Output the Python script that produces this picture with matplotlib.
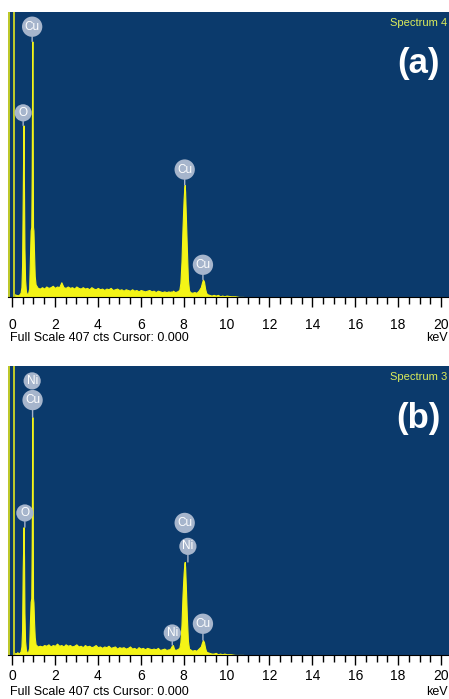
import matplotlib.pyplot as plt
import numpy as np

# EDS spectra (energy in keV, counts; full scale 407 cts)
energy = [0.15, 0.2, 0.25, 0.3, 0.35, 0.4, 0.44, 0.47, 0.5, 0.52,
          0.54, 0.56, 0.58, 0.61, 0.65, 0.7, 0.75, 0.8, 0.84, 0.87,
          0.9, 0.92, 0.94, 0.95, 0.96, 0.98, 1.0, 1.03, 1.06, 1.1,
          1.2, 1.3, 1.4, 1.5, 1.6, 1.7, 1.8, 1.9, 2.0, 2.1,
          2.2, 2.3, 2.4, 2.5, 2.6, 2.7, 2.8, 2.9, 3.0, 3.1,
          3.2, 3.3, 3.4, 3.5, 3.6, 3.7, 3.8, 3.9, 4.0, 4.1,
          4.2, 4.3, 4.4, 4.5, 4.6, 4.7, 4.8, 4.9, 5.0, 5.1,
          5.2, 5.3, 5.4, 5.5, 5.6, 5.7, 5.8, 5.9, 6.0, 6.1,
          6.2, 6.3, 6.4, 6.5, 6.6, 6.7, 6.8, 6.9, 7.0, 7.1,
          7.2, 7.3,
          7.35, 7.4, 7.45, 7.5, 7.55, 7.6, 7.7, 7.8,
          7.85, 7.9, 7.95, 8.0, 8.03, 8.05, 8.07, 8.1, 8.15, 8.2,
          8.25, 8.3, 8.4, 8.5, 8.6, 8.7, 8.8, 8.85, 8.9, 8.95,
          9.0, 9.05, 9.1, 9.2, 9.3, 9.4, 9.5, 9.6, 9.7, 9.8,
          9.9, 10.0, 10.2, 10.4, 10.6, 10.8]

counts_a = [4, 2, 3, 2, 4, 6, 14, 45, 140, 205,
            245, 150, 70, 25, 8, 4, 5, 12, 60, 95,
            100, 180, 330, 365, 300, 100, 95, 60, 30, 18,
            13, 12, 14, 12, 15, 13, 14, 16, 13, 15,
            14, 21, 14, 13, 15, 13, 14, 12, 15, 13,
            12, 14, 12, 13, 11, 14, 12, 11, 13, 11,
            12, 10, 12, 11, 13, 10, 11, 12, 10, 11,
            9, 11, 10, 9, 11, 9, 10, 8, 10, 9,
            8, 9, 10, 8, 9, 7, 9, 8, 7, 8,
            7, 8,
            7, 8, 7, 9, 8, 7, 8, 10,
            20, 50, 100, 140, 155, 160, 150, 120, 70, 25,
            10, 7, 6, 7, 6, 9, 14, 20, 25, 22,
            12, 6, 4, 3, 2, 3, 2, 3, 1, 2,
            1, 2, 1, 1, 0, 0]

counts_b = [3, 2, 4, 2, 3, 5, 12, 35, 120, 150,
            180, 140, 60, 20, 7, 3, 4, 10, 50, 75,
            80, 160, 290, 335, 290, 80, 74, 45, 25, 15,
            12, 13, 12, 14, 13, 15, 12, 14, 13, 16,
            13, 14, 12, 15, 13, 14, 12, 13, 15, 12,
            13, 11, 14, 12, 13, 11, 12, 14, 11, 12,
            10, 12, 11, 13, 10, 11, 12, 9, 11, 10,
            11, 9, 10, 12, 9, 10, 8, 11, 9, 10,
            8, 10, 9, 8, 9, 8, 10, 7, 8, 9,
            7, 8,
            8, 10, 13, 14, 9, 7, 8, 10,
            18, 42, 85, 115, 127, 131, 124, 100, 55, 20,
            9, 8, 6, 7, 6, 9, 12, 17, 21, 18,
            10, 5, 4, 3, 2, 2, 3, 1, 2, 1,
            2, 1, 1, 0, 0, 0]

# peak markers: element, energy, label height, peak top the stem points to (None = no stem)
labels_a = ['O', 'Cu', 'Cu', 'Cu']
label_e_a = [0.52, 0.94, 8.05, 8.9]
label_y_a = [263, 386, 182, 46]
stem_a = [245, 365, 160, 25]

labels_b = ['Ni', 'Cu', 'O', 'Cu', 'Ni', 'Ni', 'Cu']
label_e_b = [0.94, 0.96, 0.6, 8.05, 8.2, 7.47, 8.9]
label_y_b = [386, 359, 200, 186, 153, 31, 44]
stem_b = [None, 335, 180, None, 131, 14, 21]

xticks = [0, 2, 4, 6, 8, 10, 12, 14, 16, 18, 20]

narrow = ['Liberation Sans Narrow', 'Liberation Sans', 'DejaVu Sans']
bg = '#0b3a6c'
yellow = '#f4f416'

fig = plt.figure(figsize=(4.49, 6.99), dpi=100)


def panel(rect, counts, labels, label_e, label_y, stems, spec, tag, pad):
    ax = fig.add_axes(rect)
    ax.set_facecolor(bg)
    ax.fill_between(energy, counts, 0, color=yellow, lw=0.8, edgecolor=yellow)
    ax.axvline(-0.12, color=yellow, lw=1.1)
    ax.axvline(0.08, color=yellow, lw=1.1)
    ax.set_xlim(-0.186, 20.37)
    ax.set_ylim(0, 407)
    for s in ['top', 'right', 'left']:
        ax.spines[s].set_visible(False)
    ax.spines['bottom'].set_color('black')
    ax.set_yticks([])
    ax.set_xticks(xticks)
    ax.set_xticklabels([str(t) for t in xticks], family=narrow, fontsize=10)
    ax.set_xticks(np.arange(0, 20.5, 0.5), minor=True)
    ax.tick_params(axis='x', which='major', length=7, width=1, direction='out', pad=pad)
    ax.tick_params(axis='x', which='minor', length=5, width=1, direction='out')

    for lab, e, ly, st in zip(labels, label_e, label_y, stems):
        bbox = dict(boxstyle='circle,pad=0.22', fc='#a6b5cc', ec='none')
        if st is None:
            ax.text(e, ly, lab, ha='center', va='center', color='white',
                    fontsize=8.5, family=narrow, bbox=bbox, zorder=5)
        else:
            ax.annotate(lab, xy=(e, st), xytext=(e, ly), ha='center', va='center',
                        color='white', fontsize=8.5, family=narrow, bbox=bbox,
                        arrowprops=dict(arrowstyle='-', color='#a6b5cc', lw=1,
                                        shrinkA=0, shrinkB=0), zorder=5)

    ax.text(0.995, 0.962, spec, transform=ax.transAxes, ha='right', va='center',
            color='#dcec5a', fontsize=8, family=narrow)
    ax.text(0.93, 0.82, tag, transform=ax.transAxes, ha='center', va='center',
            color='white', fontsize=25, fontweight='bold', family=narrow)
    return ax


panel([8 / 449, (699 - 297) / 699, 441 / 449, 285 / 699], counts_a,
      labels_a, label_e_a, label_y_a, stem_a, 'Spectrum 4', '(a)', 8)
panel([8 / 449, (699 - 655) / 699, 441 / 449, 289 / 699], counts_b,
      labels_b, label_e_b, label_y_b, stem_b, 'Spectrum 3', '(b)', 3)

# status line under each spectrum
for y in [1 - 338 / 699, 1 - 692 / 699]:
    fig.text(10 / 449, y, 'Full Scale 407 cts Cursor: 0.000', ha='left', va='center',
             fontsize=9, family=narrow)
    fig.text(448 / 449, y, 'keV', ha='right', va='center', fontsize=9, family=narrow)

fig.savefig('out.png', dpi=100)
